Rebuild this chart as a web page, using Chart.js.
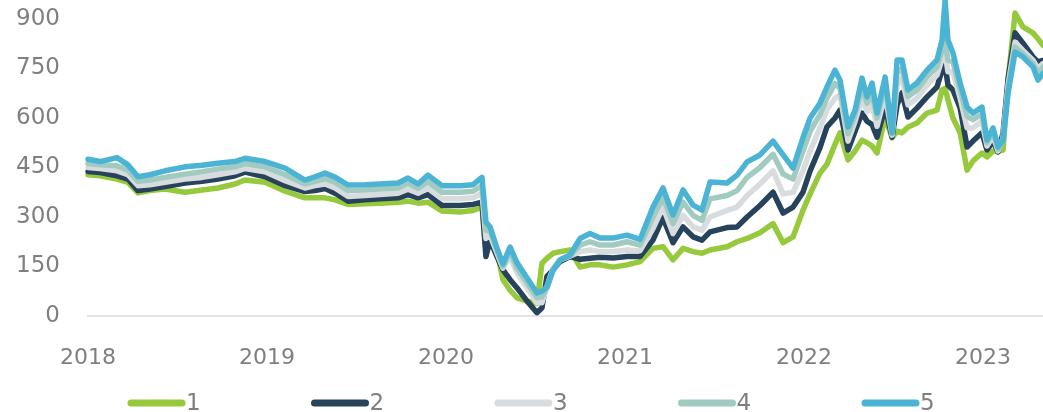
<!DOCTYPE html>
<html>
<head>
<meta charset="utf-8">
<script src="https://cdn.jsdelivr.net/npm/chart.js@4.4.0/dist/chart.umd.min.js"></script>
<style>
  html, body { margin: 0; padding: 0; background: #fff; }
  #wrap { width: 1043px; height: 412px; position: relative; }
</style>
</head>
<body>
<div id="wrap"><canvas id="chart"></canvas></div>
<script>
// decimal years
const dates = [
  2018.000, 2018.067, 2018.162, 2018.223, 2018.279, 2018.346, 2018.430, 2018.542, 2018.637, 2018.726,
  2018.821, 2018.877, 2018.989, 2019.101, 2019.212, 2019.268, 2019.324, 2019.380, 2019.453, 2019.547,
  2019.631, 2019.732, 2019.788, 2019.844, 2019.899, 2019.978, 2020.078, 2020.151, 2020.201, 2020.223,
  2020.246, 2020.285, 2020.318, 2020.358, 2020.397, 2020.453, 2020.508, 2020.536, 2020.564, 2020.598,
  2020.637, 2020.693, 2020.749, 2020.804, 2020.860, 2020.933, 2021.011, 2021.084, 2021.156, 2021.212,
  2021.268, 2021.324, 2021.380, 2021.430, 2021.475, 2021.570, 2021.626, 2021.682, 2021.754, 2021.827,
  2021.883, 2021.939, 2021.994, 2022.034, 2022.089, 2022.128, 2022.173, 2022.201, 2022.246, 2022.285,
  2022.324, 2022.352, 2022.380, 2022.408, 2022.453, 2022.492, 2022.520, 2022.547, 2022.581, 2022.631,
  2022.687, 2022.743, 2022.771, 2022.788, 2022.804, 2022.832, 2022.872, 2022.911, 2022.944, 2022.994,
  2023.022, 2023.056, 2023.084, 2023.112, 2023.140, 2023.179, 2023.223, 2023.279, 2023.307, 2023.335
];

const s1 = [
  428, 425, 415, 405, 373, 380, 385, 375, 382, 388,
  400, 412, 405, 378, 358, 358, 358, 352, 338, 340,
  342, 345, 348, 342, 345, 318, 315, 320, 330, 195,
  250, 195, 110, 78, 55, 45, 38, 160, 175, 190,
  195, 200, 148, 155, 155, 148, 155, 165, 205, 210,
  170, 205, 195, 190, 200, 210, 225, 235, 252, 280,
  222, 240, 320, 370, 433, 460, 520, 555, 473, 500,
  533, 525, 515, 494, 603, 540, 560, 555, 573, 585,
  615, 624, 685, 690, 655, 600, 555, 442, 470, 494,
  482, 500, 500, 503, 715, 918, 876, 858, 840, 820
];
const s2 = [
  438, 435, 425, 415, 380, 385, 392, 403, 408, 415,
  425, 436, 422, 395, 377, 380, 386, 372, 348, 352,
  355, 358, 368, 358, 368, 335, 335, 338, 345, 180,
  230, 180, 140, 110, 85, 45, 10, 25, 120, 140,
  165, 180, 172, 175, 178, 176, 180, 180, 230, 298,
  222, 270, 240, 230, 255, 268, 270, 300, 335, 375,
  312, 330, 375, 440, 510, 573, 600, 624, 503, 560,
  615, 590, 580, 542, 633, 542, 640, 676, 603, 630,
  664, 694, 745, 760, 700, 685, 630, 512, 530, 555,
  503, 530, 497, 555, 720, 858, 827, 785, 770, 775
];
const s3 = [
  450, 447, 440, 428, 395, 398, 405, 415, 420, 428,
  437, 447, 437, 410, 388, 395, 400, 388, 362, 365,
  368, 372, 384, 372, 387, 355, 355, 358, 372, 235,
  245, 190, 145, 180, 130, 85, 40, 40, 90, 145,
  170, 182, 195, 200, 195, 195, 200, 198, 265, 330,
  250, 305, 270, 260, 300, 320, 330, 365, 400, 440,
  370, 375, 440, 500, 570, 625, 660, 670, 530, 590,
  660, 620, 640, 575, 670, 548, 700, 720, 640, 660,
  700, 730, 780, 800, 740, 740, 660, 570, 570, 590,
  515, 545, 500, 540, 700, 830, 805, 775, 750, 765
];
const s4 = [
  462, 458, 455, 442, 408, 412, 420, 430, 437, 445,
  452, 462, 452, 428, 400, 408, 416, 405, 380, 382,
  385, 388, 402, 387, 407, 375, 375, 378, 395, 260,
  258, 198, 150, 195, 145, 100, 55, 58, 85, 138,
  170, 183, 215, 225, 215, 215, 225, 215, 300, 360,
  280, 345, 305, 290, 355, 365, 380, 420, 450, 490,
  430, 415, 500, 560, 610, 660, 705, 690, 552, 608,
  695, 645, 675, 600, 700, 552, 740, 750, 665, 685,
  725, 755, 805, 830, 775, 770, 685, 605, 595, 612,
  525, 558, 505, 535, 690, 815, 795, 765, 735, 755
];
const s5 = [
  475, 468, 480, 458, 422, 428, 440, 452, 457, 463,
  468, 478, 468, 448, 412, 422, 433, 421, 397, 398,
  400, 403, 418, 400, 427, 395, 395, 398, 420, 285,
  270, 205, 158, 209, 161, 115, 70, 75, 88, 139,
  170, 185, 235, 250, 236, 236, 245, 232, 330, 388,
  306, 382, 336, 321, 406, 403, 427, 467, 488, 530,
  488, 448, 540, 600, 645, 694, 745, 715, 573, 624,
  721, 664, 706, 615, 724, 555, 776, 776, 685, 706,
  745, 776, 836, 958, 836, 797, 706, 633, 615, 633,
  533, 570, 512, 533, 676, 800, 785, 755, 715, 735
];

const seriesNames = ['1', '2', '3', '4', '5'];
const seriesValues = [s1, s2, s3, s4, s5];
const seriesColors = ['#97c93c', '#26435b', '#d8dcdf', '#a1cbc1', '#4bb3d3'];
const yearTicks = [2018, 2019, 2020, 2021, 2022, 2023];
const valueTicks = [0, 150, 300, 450, 600, 750, 900];

const fontFamily = '"DejaVu Sans", sans-serif';
const textColor = '#7f7f7f';

function toPoints(values) {
  return values.map((v, i) => ({ x: dates[i], y: v }));
}

// legend drawn under the axis: long rounded line, then the label
const bottomLegend = {
  id: 'bottomLegend',
  afterDraw(chart) {
    const ctx = chart.ctx;
    ctx.save();
    ctx.font = '23px ' + fontFamily;
    ctx.textBaseline = 'middle';
    ctx.lineCap = 'round';
    chart.data.datasets.forEach((ds, i) => {
      const x = 128 + i * 183.5;
      const y = 403;
      ctx.strokeStyle = ds.borderColor;
      ctx.lineWidth = 7;
      ctx.beginPath();
      ctx.moveTo(x + 3, y);
      ctx.lineTo(x + 54, y);
      ctx.stroke();
      ctx.fillStyle = textColor;
      ctx.fillText(ds.label, x + 58, y + 1);
    });
    ctx.restore();
  }
};

const datasets = seriesNames.map((name, i) => ({
  label: name,
  data: toPoints(seriesValues[i]),
  borderColor: seriesColors[i],
  backgroundColor: seriesColors[i],
  borderWidth: 5.5,
  pointRadius: 0,
  tension: 0,
  clip: false,
  order: seriesNames.length - i
}));

new Chart(document.getElementById('chart'), {
  type: 'line',
  data: { datasets: datasets },
  options: {
    responsive: true,
    maintainAspectRatio: false,
    animation: false,
    layout: { padding: { top: 19, left: 0, right: 0, bottom: 46 } },
    plugins: {
      legend: { display: false },
      tooltip: { enabled: false }
    },
    elements: {
      line: { borderJoinStyle: 'round', borderCapStyle: 'round' }
    },
    scales: {
      x: {
        type: 'linear',
        min: 2018,
        max: 2023.335,
        afterBuildTicks: axis => { axis.ticks = yearTicks.map(v => ({ value: v })); },
        afterFit: axis => { axis.height = 50; axis.paddingLeft = 0; axis.paddingRight = 0; },
        ticks: {
          callback: v => String(v),
          color: textColor,
          font: { family: fontFamily, size: 22 },
          padding: 21,
          maxRotation: 0,
          autoSkip: false
        },
        grid: { display: false },
        border: { display: true, color: '#e3e3e3', width: 2 }
      },
      y: {
        min: 0,
        max: 900,
        afterBuildTicks: axis => { axis.ticks = valueTicks.map(v => ({ value: v })); },
        afterFit: axis => { axis.width = 88; axis.paddingTop = 0; axis.paddingBottom = 0; },
        ticks: {
          color: textColor,
          font: { family: fontFamily, size: 23 },
          padding: 20
        },
        grid: { display: false },
        border: { display: false }
      }
    }
  },
  plugins: [bottomLegend]
});
</script>
</body>
</html>
